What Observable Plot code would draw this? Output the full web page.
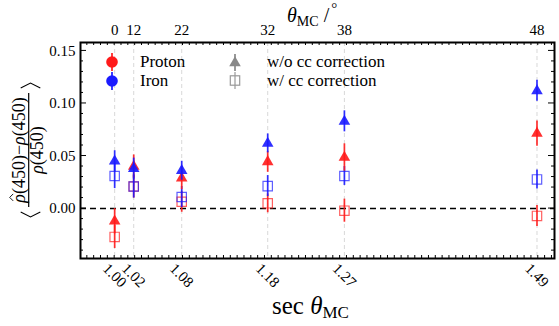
<!DOCTYPE html>
<html>
<head>
<meta charset="utf-8">
<script src="https://cdn.jsdelivr.net/npm/d3@7"></script>
<script src="https://cdn.jsdelivr.net/npm/@observablehq/plot@0.6"></script>
<style>
  body { margin: 0; background: #fff; }
  svg { display: block; }
  svg text { font-family: "Liberation Serif", "DejaVu Serif", "Times New Roman", serif; }
</style>
</head>
<body>
<script>
// ---- data ----
const secTheta = [1.0, 1.0223, 1.0785, 1.1792, 1.2690, 1.4945];
const secLabels = ["1.00", "1.02", "1.08", "1.18", "1.27", "1.49"];
const thetaLabels = ["0", "12", "22", "32", "38", "48"];

const protonNoCC    = [-0.012, 0.040, 0.029, 0.0445, 0.0486, 0.0714];
const protonNoCCErr = [0.012, 0.011, 0.011, 0.010, 0.013, 0.012];
const ironNoCC      = [0.045, 0.038, 0.036, 0.062, 0.083, 0.112];
const ironNoCCErr   = [0.010, 0.010, 0.009, 0.009, 0.010, 0.010];
const protonCC      = [-0.027, 0.021, 0.0065, 0.005, -0.002, -0.007];
const protonCCErr   = [0.011, 0.011, 0.010, 0.009, 0.011, 0.010];
const ironCC        = [0.031, 0.021, 0.011, 0.0214, 0.031, 0.0277];
const ironCCErr     = [0.012, 0.011, 0.010, 0.010, 0.009, 0.009];

const yTicks = [0, 0.05, 0.10, 0.15];

const RED = "#ff1a1a";
const BLUE = "#1a1aff";
const FONT = "'Liberation Serif', 'DejaVu Serif', serif";

function rows(vals, errs) {
  return secTheta.map((x, i) => ({x, y: vals[i], lo: vals[i] - errs[i], hi: vals[i] + errs[i]}));
}
const pNo = rows(protonNoCC, protonNoCCErr);
const iNo = rows(ironNoCC, ironNoCCErr);
const pCC = rows(protonCC, protonCCErr);
const iCC = rows(ironCC, ironCCErr);
const labelRows = secTheta.map((x, i) => ({x, sec: secLabels[i], th: thetaLabels[i]}));

function errMarks(data, color) {
  return Plot.ruleX(data, {x: "x", y1: "lo", y2: "hi", stroke: color, strokeWidth: 1.7, strokeOpacity: 0.9});
}

const plot = Plot.plot({
  width: 559,
  height: 326,
  marginLeft: 80,
  marginRight: 5,
  marginTop: 42,
  marginBottom: 68,
  style: {fontFamily: FONT, fontSize: "15px", background: "#fff", color: "#000"},
  x: {domain: [0.96, 1.515], axis: null},
  y: {domain: [-0.0475, 0.158], axis: null},
  marks: [
    Plot.ruleX(secTheta, {x: d => d, stroke: "#d8d8d8", strokeDasharray: "4,3", strokeWidth: 1}),
    Plot.ruleY([0], {stroke: "#000", strokeDasharray: "6,4", strokeWidth: 1.4}),
    errMarks(pCC, RED),
    Plot.dot(pCC, {x: "x", y: "y", symbol: "square", r: 5.3, stroke: RED, strokeWidth: 1.2, strokeOpacity: 0.7, fill: "none"}),
    errMarks(iCC, BLUE),
    Plot.dot(iCC, {x: "x", y: "y", symbol: "square", r: 5.3, stroke: BLUE, strokeWidth: 1.2, strokeOpacity: 0.7, fill: "none"}),
    errMarks(pNo, RED),
    Plot.dot(pNo, {x: "x", y: "y", symbol: "triangle", r: 4.3, fill: RED, stroke: "none", fillOpacity: 0.9}),
    errMarks(iNo, BLUE),
    Plot.dot(iNo, {x: "x", y: "y", symbol: "triangle", r: 4.3, fill: BLUE, stroke: "none", fillOpacity: 0.9}),
    Plot.text(yTicks, {y: d => d, text: d => d3.format(".2f")(d), frameAnchor: "left", dx: -5, textAnchor: "end", fontSize: 15}),
    Plot.text(labelRows, {x: "x", text: "sec", frameAnchor: "bottom", dy: 17, rotate: 45, textAnchor: "middle", lineAnchor: "middle", fontSize: 15}),
    Plot.text(labelRows, {x: "x", text: "th", frameAnchor: "top", dy: -12, textAnchor: "middle", lineAnchor: "middle", fontSize: 15}),
    Plot.frame({stroke: "#000", strokeWidth: 2})
  ]
});

document.body.append(plot);

// ---- decorations drawn with library scales ----
const svg = d3.select(plot);
const xs = plot.scale("x"), ys = plot.scale("y");
const X0 = 80, X1 = 554, Y0 = 42, Y1 = 258;
const g = svg.append("g").attr("stroke", "#000").attr("stroke-width", 1);

for (let k = -4; k <= 15; k++) {
  const v = k / 100;
  const y = ys.apply(v);
  const len = (k % 5 === 0) ? 6 : 3;
  g.append("line").attr("x1", X0).attr("x2", X0 + len).attr("y1", y).attr("y2", y);
  g.append("line").attr("x1", X1).attr("x2", X1 - len).attr("y1", y).attr("y2", y);
}
for (let k = 0; k < 80; k++) {
  const v = 0.96 + 0.008 * (k + 1);
  if (v > 1.514) break;
  const x = xs.apply(v);
  g.append("line").attr("x1", x).attr("x2", x).attr("y1", Y1).attr("y2", Y1 - 3);
  g.append("line").attr("x1", x).attr("x2", x).attr("y1", Y0).attr("y2", Y0 + 3);
}

// legend
const leg = svg.append("g").attr("font-size", 17).attr("text-anchor", "start");
function legCircle(cx, cy, color) {
  leg.append("line").attr("x1", cx).attr("x2", cx).attr("y1", cy - 9).attr("y2", cy + 9)
    .attr("stroke", color).attr("stroke-width", 1.7);
  leg.append("circle").attr("cx", cx).attr("cy", cy).attr("r", 5.8).attr("fill", color);
}
legCircle(112, 62, RED);
legCircle(112, 81, BLUE);
leg.append("text").attr("x", 140).attr("y", 67).text("Proton");
leg.append("text").attr("x", 140).attr("y", 86).text("Iron");
leg.append("line").attr("x1", 235).attr("x2", 235).attr("y1", 54).attr("y2", 71)
  .attr("stroke", "#888").attr("stroke-width", 1.7);
leg.append("path").attr("d", d3.symbol(d3.symbolTriangle, Math.PI * 4.3 * 4.3)())
  .attr("transform", "translate(235,63)").attr("fill", "#888");
leg.append("line").attr("x1", 235).attr("x2", 235).attr("y1", 72).attr("y2", 89)
  .attr("stroke", "#999").attr("stroke-width", 1.2);
leg.append("rect").attr("x", 230.3).attr("y", 75.8).attr("width", 9.4).attr("height", 9.4)
  .attr("fill", "none").attr("stroke", "#999").attr("stroke-width", 1.2);
leg.append("text").attr("x", 267).attr("y", 67).text("w/o cc correction");
leg.append("text").attr("x", 267).attr("y", 86).text("w/ cc correction");

// top axis title
const tt = svg.append("text").attr("text-anchor", "start").attr("x", 287).attr("y", 22).attr("font-size", 20);
tt.append("tspan").attr("font-style", "italic").text("θ");
tt.append("tspan").attr("font-size", 14).attr("dy", 4).text("MC");
tt.append("tspan").attr("dy", -4).text(" /");
tt.append("tspan").attr("font-size", 15).attr("dy", -9).attr("dx", 2).text("°");

// bottom axis title
const bt = svg.append("text").attr("text-anchor", "start").attr("x", 272).attr("y", 314).attr("font-size", 25);
bt.append("tspan").text("sec ");
bt.append("tspan").attr("font-style", "italic").text("θ");
bt.append("tspan").attr("font-size", 17).attr("dy", 4).text("MC");

// y axis label
const yl = svg.append("g").attr("transform", "translate(28.7,150) rotate(-90)").attr("font-size", 18);
const num = yl.append("text").attr("x", 0).attr("y", -4).attr("text-anchor", "middle");
num.append("tspan").attr("font-style", "italic").text("ρ");
num.append("tspan").text("(450)−");
num.append("tspan").attr("font-style", "italic").text("ρ");
num.append("tspan").text("(450)");
// hat over the first rho
try {
  const p0 = num.node().getStartPositionOfChar(0);
  const p1 = num.node().getEndPositionOfChar(0);
  const cx = (p0.x + p1.x) / 2 + 1;
  yl.append("path").attr("d", `M${cx - 3.5},-15.5L${cx},-19L${cx + 3.5},-15.5`)
    .attr("fill", "none").attr("stroke", "#000").attr("stroke-width", 0.9);
} catch (e) {}
const den = yl.append("text").attr("x", 0).attr("y", 14).attr("text-anchor", "middle");
den.append("tspan").attr("font-style", "italic").text("ρ");
den.append("tspan").text("(450)");
yl.append("line").attr("x1", -57).attr("x2", 57).attr("y1", 0).attr("y2", 0)
  .attr("stroke", "#000").attr("stroke-width", 1.2);
yl.append("path").attr("d", "M-62,-8L-67,1.8L-62,11.6").attr("fill", "none").attr("stroke", "#000").attr("stroke-width", 1.1);
yl.append("path").attr("d", "M62,-8L67,1.8L62,11.6").attr("fill", "none").attr("stroke", "#000").attr("stroke-width", 1.1);
</script>
</body>
</html>
